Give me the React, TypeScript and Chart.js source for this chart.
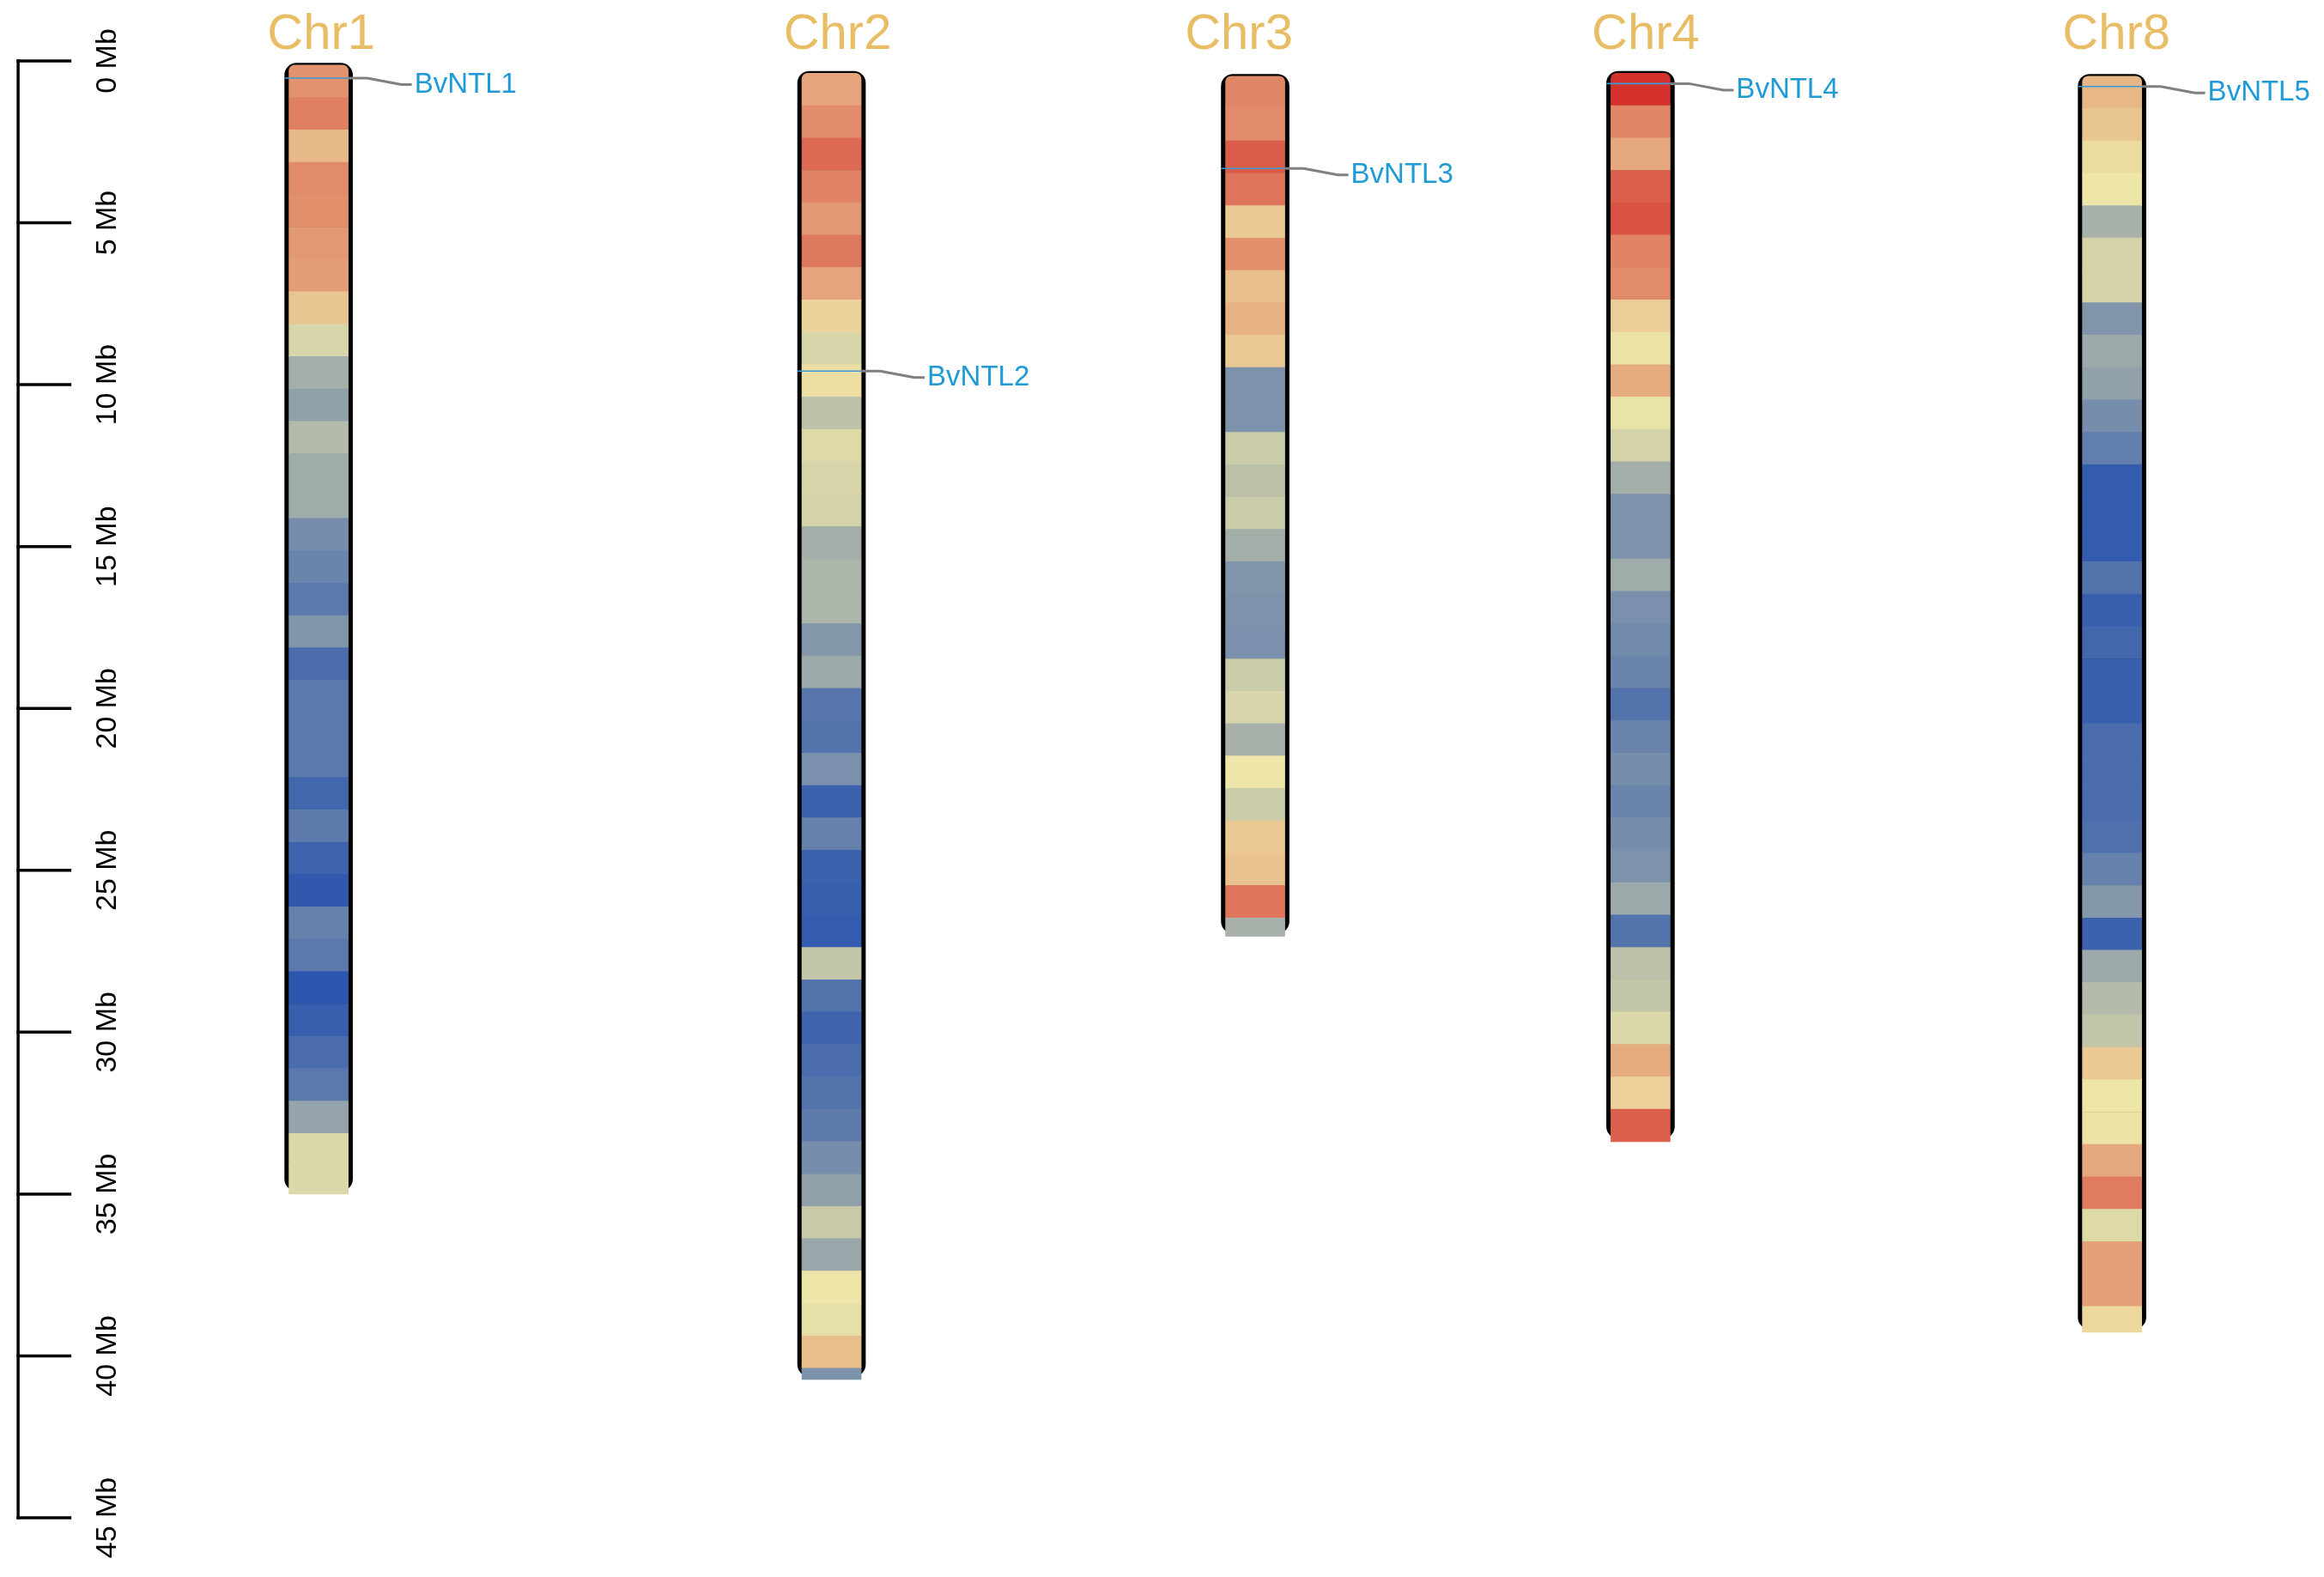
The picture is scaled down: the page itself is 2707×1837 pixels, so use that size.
import React, { useEffect, useRef } from "react";
import { Chart, registerables } from "chart.js";

Chart.register(...registerables);

// ---------------- data ----------------
const chromosomes = ["Chr1", "Chr2", "Chr3", "Chr4", "Chr8"];
const chrLengthMb = [34.87, 40.35, 26.57, 33.0, 38.8];

// relative gene density per 1 Mb bin (0 = low / blue, 100 = high / red)
const chr1Density = [73, 78, 62, 75, 74, 71, 70, 59, 44, 31, 26, 35, 30, 30, 19, 16, 12, 22, 8, 12, 12, 12, 6, 13, 5, 1, 15, 12, 0, 3, 8, 12, 27, 45, 45];
const chr2Density = [68, 75, 84, 77, 71, 80, 68, 55, 44, 52, 37, 46, 44, 43, 31, 33, 33, 23, 29, 11, 10, 20, 4, 15, 4, 3, 2, 39, 10, 5, 8, 10, 13, 19, 26, 40, 28, 50, 48, 61, 21];
const chr3Density = [76, 75, 88, 81, 58, 74, 61, 64, 58, 21, 21, 41, 37, 41, 31, 22, 21, 20, 41, 44, 32, 50, 41, 58, 60, 81, 32];
const chr4Density = [100, 76, 67, 87, 90, 77, 75, 57, 51, 66, 49, 43, 31, 21, 21, 30, 20, 18, 16, 10, 16, 19, 16, 19, 21, 29, 10, 37, 39, 45, 66, 56, 87];
const chr8Density = [63, 59, 53, 50, 32, 43, 43, 22, 29, 26, 19, 14, 2, 2, 2, 10, 3, 6, 3, 3, 8, 8, 8, 9, 15, 23, 4, 29, 35, 39, 58, 50, 51, 67, 79, 46, 69, 69, 54];
const densities = [chr1Density, chr2Density, chr3Density, chr4Density, chr8Density];

const geneNames = ["BvNTL1", "BvNTL2", "BvNTL3", "BvNTL4", "BvNTL5"];
const geneChrIndex = [0, 1, 2, 3, 4];
const genePosMb = [0.4, 9.2, 2.85, 0.32, 0.32];

const tickValuesMb = [0, 5, 10, 15, 20, 25, 30, 35, 40, 45];
const tickLabels = tickValuesMb.map((v) => `${v} Mb`);

// ---------------- layout / style ----------------
const BIN_MB = 1;
const CHR_X = [13.71, 35.78, 54.01, 70.59, 90.88]; // x-scale units (0-100)
const CHR_TOP_OFFSET = [0.13, 0.38, 0.47, 0.38, 0.47]; // Mb
const TITLE_DX = [3, 7, -19, 6, 5]; // px
const AXIS_X = 0.78;
const BAR_W = 69;
const OUTLINE_W = 79;
const FONT = '"Liberation Sans", Arial, Helvetica, sans-serif';

const LOW = [44, 86, 174];
const MID = [238, 230, 168];
const HIGH = [212, 48, 44];

function densityColor(d: number): string {
  const t = Math.max(0, Math.min(1, d / 100));
  const [a, b, u] = t < 0.5 ? [LOW, MID, t * 2] : [MID, HIGH, (t - 0.5) * 2];
  const c = (a as number[]).map((v, i) => Math.round(v + ((b as number[])[i] - v) * (u as number)));
  return `rgb(${c[0]},${c[1]},${c[2]})`;
}

const overlayPlugin = {
  id: "ideogramOverlay",
  afterDatasetsDraw(chart: any) {
    const { ctx, scales, chartArea } = chart;
    const x = scales.x;
    const y = scales.y;
    ctx.save();

    // Mb axis
    const ax = x.getPixelForValue(AXIS_X);
    const lw = 3.5;
    ctx.strokeStyle = "#000";
    ctx.lineWidth = lw;
    ctx.lineCap = "butt";
    ctx.beginPath();
    ctx.moveTo(ax, y.getPixelForValue(tickValuesMb[0]) - lw / 2);
    ctx.lineTo(ax, y.getPixelForValue(tickValuesMb[tickValuesMb.length - 1]) + lw / 2);
    ctx.stroke();
    tickValuesMb.forEach((v, i) => {
      const py = y.getPixelForValue(v);
      ctx.beginPath();
      ctx.moveTo(ax - lw / 2, py);
      ctx.lineTo(ax + 62, py);
      ctx.stroke();
      ctx.save();
      ctx.translate(ax + 114, py);
      ctx.rotate(-Math.PI / 2);
      ctx.fillStyle = "#000";
      ctx.font = `34px ${FONT}`;
      ctx.textAlign = "center";
      ctx.textBaseline = "alphabetic";
      ctx.fillText(tickLabels[i], 0, 0);
      ctx.restore();
    });

    // chromosome titles
    ctx.fillStyle = "#E8BD66";
    ctx.font = `58px ${FONT}`;
    ctx.textAlign = "center";
    ctx.textBaseline = "alphabetic";
    chromosomes.forEach((name, c) => {
      ctx.fillText(name, x.getPixelForValue(CHR_X[c]) + TITLE_DX[c], chartArea.top - 14);
    });

    // gene markers
    geneNames.forEach((g, k) => {
      const c = geneChrIndex[k];
      const cx = x.getPixelForValue(CHR_X[c]);
      const half = BAR_W / 2;
      const yy = y.getPixelForValue(CHR_TOP_OFFSET[c] + genePosMb[k]);
      const ly = y.getPixelForValue(CHR_TOP_OFFSET[c] + genePosMb[k] + 0.2);
      ctx.strokeStyle = "#3A9AD9";
      ctx.lineWidth = 1.6;
      ctx.beginPath();
      ctx.moveTo(cx - half - 5, yy);
      ctx.lineTo(cx + half, yy);
      ctx.stroke();
      ctx.strokeStyle = "#808080";
      ctx.lineWidth = 3;
      ctx.lineJoin = "round";
      ctx.beginPath();
      ctx.moveTo(cx + half, yy);
      ctx.lineTo(cx + half + 22, yy);
      ctx.lineTo(cx + half + 62, ly);
      ctx.lineTo(cx + half + 74, ly);
      ctx.stroke();
      ctx.fillStyle = "#1E9AD6";
      ctx.font = `33px ${FONT}`;
      ctx.textAlign = "left";
      ctx.textBaseline = "middle";
      ctx.fillText(g, cx + half + 77, ly);
    });

    ctx.restore();
  },
};

export default function App() {
  const canvasRef = useRef<HTMLCanvasElement | null>(null);

  useEffect(() => {
    if (!canvasRef.current) return;

    const binPoints: any[] = [];
    const binColors: string[] = [];
    const outlinePoints: any[] = [];
    chromosomes.forEach((_, c) => {
      const off = CHR_TOP_OFFSET[c];
      const len = chrLengthMb[c];
      densities[c].forEach((d, i) => {
        const s = off + i * BIN_MB;
        const e = off + Math.min((i + 1) * BIN_MB, len);
        binPoints.push({ x: CHR_X[c], y: [s, e], first: i === 0 });
        binColors.push(densityColor(d));
      });
      outlinePoints.push({ x: CHR_X[c], y: [off - 0.06, off + len - 0.1] });
    });

    const chart = new Chart(canvasRef.current, {
      type: "bar",
      data: {
        datasets: [
          {
            label: "density",
            data: binPoints,
            backgroundColor: binColors,
            borderWidth: 0,
            grouped: false,
            maxBarThickness: BAR_W,
            categoryPercentage: 1,
            barPercentage: 1,
            borderSkipped: false,
            borderRadius: (ctx: any) =>
              ctx.raw && ctx.raw.first ? { topLeft: 7, topRight: 7, bottomLeft: 0, bottomRight: 0 } : 0,
            order: 1,
          } as any,
          {
            label: "outline",
            data: outlinePoints,
            backgroundColor: "#000000",
            borderWidth: 0,
            grouped: false,
            maxBarThickness: OUTLINE_W,
            categoryPercentage: 1,
            barPercentage: 1,
            borderSkipped: false,
            borderRadius: 14,
            order: 2,
          } as any,
        ],
      },
      options: {
        animation: false,
        responsive: true,
        maintainAspectRatio: false,
        layout: { padding: { top: 71, bottom: 69, left: 0, right: 0 } },
        plugins: {
          legend: { display: false },
          tooltip: { enabled: false },
          title: { display: false },
        },
        scales: {
          x: { type: "linear", min: 0, max: 100, display: false, offset: false, ticks: { maxTicksLimit: 3 } },
          y: { type: "linear", min: 0, max: 45, reverse: true, display: false },
        },
      } as any,
      plugins: [overlayPlugin],
    });

    return () => chart.destroy();
  }, []);

  return (
    <div style={{ position: "fixed", left: 0, top: 0, width: "100vw", height: "100vh", background: "#fff" }}>
      <canvas ref={canvasRef} />
    </div>
  );
}
